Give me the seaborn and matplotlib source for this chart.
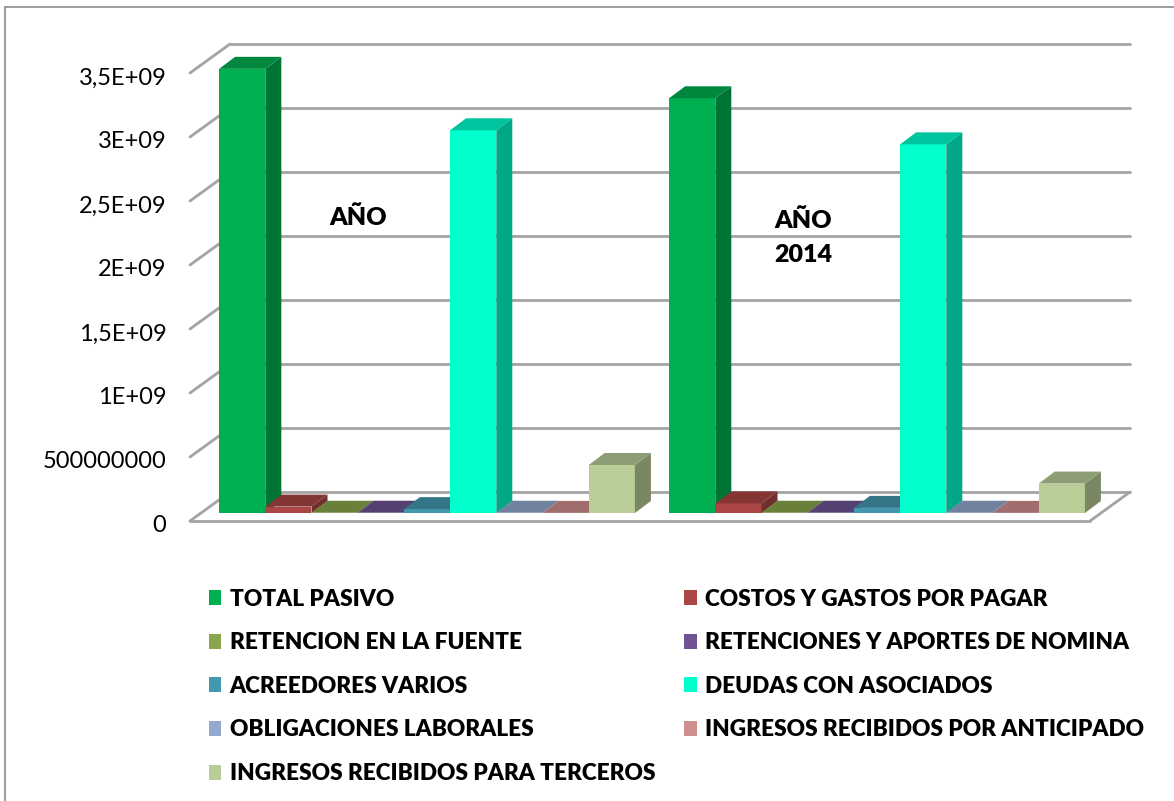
import matplotlib
matplotlib.use("Agg")
import matplotlib.pyplot as plt
import pandas as pd
import seaborn as sns
from matplotlib.lines import Line2D
from matplotlib.patches import Polygon
from matplotlib.transforms import Affine2D, IdentityTransform

# --- DATA ---
years = ["AÑO", "AÑO 2014"]
concepts = [
    "TOTAL PASIVO",
    "COSTOS Y GASTOS POR PAGAR",
    "RETENCION EN LA FUENTE",
    "RETENCIONES Y APORTES DE NOMINA",
    "ACREEDORES VARIOS",
    "DEUDAS CON ASOCIADOS",
    "OBLIGACIONES LABORALES",
    "INGRESOS RECIBIDOS POR ANTICIPADO",
    "INGRESOS RECIBIDOS PARA TERCEROS",
]
values_first = [3.47e9, 5.0e7, 2.0e6, 2.0e6, 3.0e7, 2.99e9, 2.0e6, 1.0e6, 3.75e8]
values_2014 = [3.24e9, 7.5e7, 2.0e6, 2.0e6, 4.0e7, 2.88e9, 2.0e6, 1.0e6, 2.3e8]
colors = ["#00B050", "#AA4644", "#8AA64B", "#6F5394", "#4398B0",
          "#00FFCC", "#93A9D1", "#CF8F8E", "#B9CD96"]
tick_values = [0, 5e8, 1e9, 1.5e9, 2e9, 2.5e9, 3e9, 3.5e9]
tick_labels = ["0", "500000000", "1E+09", "1,5E+09", "2E+09", "2,5E+09", "3E+09", "3,5E+09"]

df = pd.DataFrame({
    "anio": [y for y in years for _ in concepts],
    "concepto": concepts * 2,
    "valor": values_first + values_2014,
})

# --- SETUP ---
W, H = 1174, 801
sns.set_style("white")
plt.rcParams["font.family"] = ["Lato", "DejaVu Sans"]
plt.rcParams["text.color"] = "black"

fig = plt.figure(figsize=(W / 100, H / 100), dpi=100)
# value 0 of the bars sits at y=513px, 3.5E+09 at 65px
ax = fig.add_axes([202 / W, 1 - 513 / H, 900 / W, 448 / H])
ax.patch.set_alpha(0)

sns.barplot(data=df, x="anio", y="valor", hue="concepto", order=years, hue_order=concepts,
            palette=colors, saturation=1, width=0.924, gap=0, linewidth=0, ax=ax)
ax.set_xlim(-0.5, 1.5)
ax.set_ylim(0, 3.5e9)
ax.set_xlabel("")
ax.set_ylabel("")
ax.set_xticks([])
sns.despine(ax=ax, left=True, bottom=True)

# --- 3D LOOK ---
DEPTH = (16, 12)       # depth of a bar, px
FRONT = (-12, -8)      # front edge of the floor relative to the axes, px
BACK = (28, 21)        # back wall relative to the axes, px
GREY = "#A3A3A3"


def shade(color, f):
    r, g, b = matplotlib.colors.to_rgb(color)
    return (r * f, g * f, b * f)


def moved(dx, dy):
    return ax.get_yaxis_transform() + Affine2D().translate(dx, dy)


# walls
for v in tick_values:
    ax.plot([0, 1], [v, v], transform=moved(*BACK), color=GREY, lw=2, clip_on=False, zorder=1)
    x0 = ax.get_yaxis_transform().transform((0, v))
    ax.plot([x0[0] + FRONT[0], x0[0] + BACK[0]], [x0[1] + FRONT[1], x0[1] + BACK[1]],
            transform=IdentityTransform(), color=GREY, lw=2, clip_on=False, zorder=1)
ax.plot([0, 1], [0, 0], transform=moved(*FRONT), color=GREY, lw=2, clip_on=False, zorder=1)
x1 = ax.get_yaxis_transform().transform((1, 0))
ax.plot([x1[0] + FRONT[0], x1[0] + BACK[0]], [x1[1] + FRONT[1], x1[1] + BACK[1]],
        transform=IdentityTransform(), color=GREY, lw=2, clip_on=False, zorder=1)

# side and top faces, drawn left to right so nearer bars cover the others
bars = []
for cont, color in zip(ax.containers, colors):
    for patch in cont:
        bars.append((patch, color))
bars.sort(key=lambda b: b[0].get_x())

dx, dy = DEPTH
for i, (patch, color) in enumerate(bars):
    z = 3 + i
    patch.set_zorder(z)
    (xl, yb), (xr, yt) = ax.transData.transform(
        [(patch.get_x(), 0), (patch.get_x() + patch.get_width(), patch.get_height())])
    side = [(xr, yb), (xr + dx, yb + dy), (xr + dx, yt + dy), (xr, yt)]
    top = [(xl, yt), (xr, yt), (xr + dx, yt + dy), (xl + dx, yt + dy)]
    ax.add_patch(Polygon(side, closed=True, transform=IdentityTransform(), fc=shade(color, 0.66),
                         lw=0, clip_on=False, zorder=z))
    ax.add_patch(Polygon(top, closed=True, transform=IdentityTransform(), fc=shade(color, 0.77),
                         lw=0, clip_on=False, zorder=z))

# --- TICKS ---
ax.set_yticks(tick_values, tick_labels)
ax.tick_params(axis="y", length=0, pad=25.6, labelsize=17, labelcolor="black")
for label in ax.get_yticklabels():
    label.set_transform(label.get_transform() + Affine2D().translate(0, -11))

# --- LEGEND ---
handles, labels = ax.get_legend_handles_labels()
order = [0, 2, 4, 6, 8, 1, 3, 5, 7]
ax.get_legend().remove()
leg = fig.legend([handles[i] for i in order], [labels[i] for i in order], ncol=2, frameon=False,
                 loc="upper left", bbox_to_anchor=(204 / W, 1 - 584 / H),
                 prop={"family": "Lato", "weight": 800, "size": 16.3},
                 handlelength=0.57, handleheight=0.65, handletextpad=0.36,
                 labelspacing=1.0, columnspacing=1.27, borderpad=0.2, borderaxespad=0)

# --- TEXT AND FRAME ---
fig.text(329 / W, 1 - 218 / H, "AÑO", fontsize=18, fontweight=800, va="center")
fig.text(774 / W, 1 - 237.5 / H, "AÑO\n2014", fontsize=18, fontweight=800, va="center", linespacing=1.7)
fig.add_artist(Line2D([5 / W, 5 / W], [0, 1 - 7 / H], color="#A0A0A0", lw=1.5))
fig.add_artist(Line2D([5 / W, 1], [1 - 7 / H, 1 - 7 / H], color="#8C8C8C", lw=1.2))

fig.savefig("out.png", dpi=100)
